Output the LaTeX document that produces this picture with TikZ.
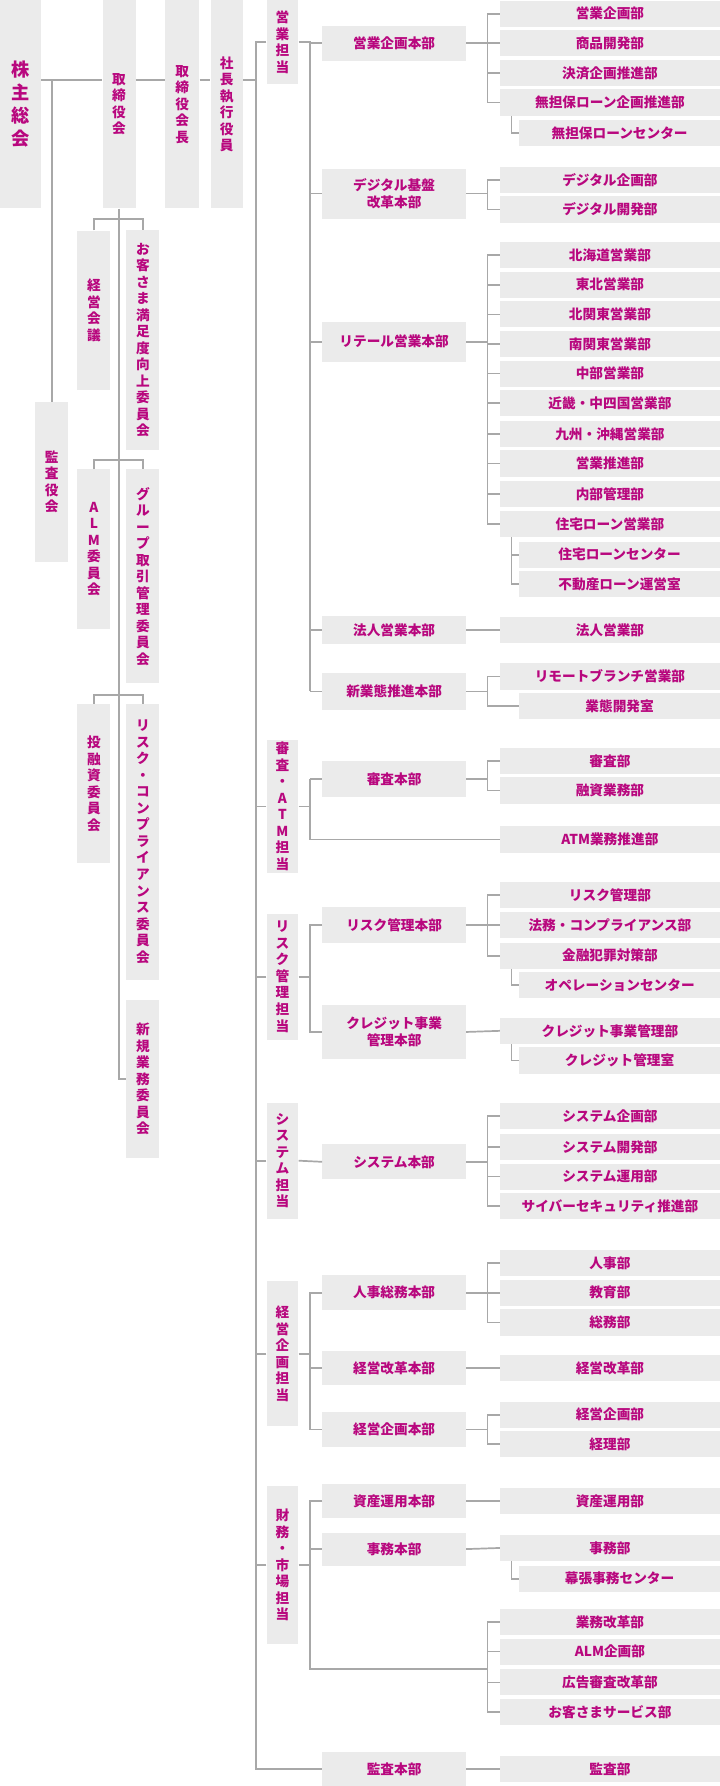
\documentclass[tikz,border=0pt]{standalone}
\usepackage{fontspec}
\setmainfont{Noto Sans CJK JP}
\definecolor{mag}{HTML}{B8077E}
\definecolor{bg}{HTML}{EBEBEB}
\definecolor{ln}{HTML}{A8A8A8}
\begin{document}
\begin{tikzpicture}[x=1pt,y=-1pt,
 box/.style={fill=bg,text=mag,font=\bfseries\fontsize{12}{14.5}\selectfont,inner sep=0,align=center},
 dept/.style={box,minimum width=193,minimum height=23},
 sub/.style={box,minimum width=176,minimum height=23},
 hq/.style={box,minimum width=126},
 vt/.style={box,minimum width=29},
 ln/.style={draw=ln,line width=1.5pt}]
\useasboundingbox (0,0) rectangle (632,1568);
% left
\node[vt,minimum width=36,minimum height=183,font=\bfseries\fontsize{16}{20}\selectfont] (kabu) at (18,91.5) {株\\主\\総\\会};
\node[vt,minimum height=183] (tori) at (104.5,91.5) {取\\締\\役\\会};
\node[vt,minimum width=30,minimum height=183] (kaicho) at (160,91.5) {取\\締\\役\\会\\長};
\node[vt,minimum width=28,minimum height=183] (shacho) at (199,91.5) {社\\長\\執\\行\\役\\員};
\node[vt,minimum height=140] (kansayaku) at (45.5,423) {監\\査\\役\\会};
\node[vt,minimum height=140] (keiei) at (82.5,272.5) {経\\営\\会\\議};
\node[vt,minimum height=193] (okyaku) at (125.5,298.5) {お\\客\\さ\\ま\\満\\足\\度\\向\\上\\委\\員\\会};
\node[vt,minimum height=140] (alm) at (82.5,482) {A\\L\\M\\委\\員\\会};
\node[vt,minimum height=188] (group) at (125.5,506) {グ\\ル\\ー\\プ\\取\\引\\管\\理\\委\\員\\会};
\node[vt,minimum height=140] (toyu) at (82.5,688) {投\\融\\資\\委\\員\\会};
\node[vt,minimum height=242] (risk) at (125.5,739) {リ\\ス\\ク\\・\\コ\\ン\\プ\\ラ\\イ\\ア\\ン\\ス\\委\\員\\会};
\node[vt,minimum height=139] (shinki) at (125.5,947.5) {新\\規\\業\\務\\委\\員\\会};
\coordinate (j) at (225,70);
\draw[ln] (kabu.east|-j) -- (tori.west|-j) (tori.east|-j) -- (kaicho.west|-j) (kaicho.east|-j) -- (shacho.west|-j) (shacho.east|-j) -- (j);
\draw[ln] (kansayaku.north|-j) -- (kansayaku.north);
\draw[ln] (tori.south) -- (tori.south|-shinki.west) -- (shinki.west);
\draw[ln] (keiei.north) -- (keiei.north|-0,192) -- (okyaku.north|-0,192) -- (okyaku.north);
\draw[ln] (alm.north) -- (alm.north|-0,404) -- (group.north|-0,404) -- (group.north);
\draw[ln] (toyu.north) -- (toyu.north|-0,610) -- (risk.north|-0,610) -- (risk.north);
% tanto
\node[vt,minimum width=28,minimum height=74] (t1) at (248,37) {営\\業\\担\\当};
\node[vt,minimum width=28,minimum height=116] (t2) at (248,708) {審\\査\\・\\A\\T\\M\\担\\当};
\node[vt,minimum width=28,minimum height=111] (t3) at (248,857.5) {リ\\ス\\ク\\管\\理\\担\\当};
\node[vt,minimum width=28,minimum height=102] (t4) at (248,1019) {シ\\ス\\テ\\ム\\担\\当};
\node[vt,minimum width=28,minimum height=127] (t5) at (248,1188.5) {経\\営\\企\\画\\担\\当};
\node[vt,minimum width=28,minimum height=138] (t6) at (248,1374) {財\\務\\・\\市\\場\\担\\当};
\node[hq,minimum height=30] (kh) at (346,1553) {監査本部};
\draw[ln] (t1.west) -- (t1.west-|j) -- (kh.west-|j) -- (kh.west);
\foreach \t in {t2,t3,t4,t5,t6} \draw[ln] (\t.west) -- (\t.west-|j);
% honbu
\node[hq,minimum height=31] (h1) at (346,38) {営業企画本部};
\node[hq,minimum height=44] (h2) at (346,170) {デジタル基盤\\改革本部};
\node[hq,minimum height=35] (h3) at (346,300) {リテール営業本部};
\node[hq,minimum height=25] (h4) at (346,553) {法人営業本部};
\node[hq,minimum height=33] (h5) at (346,607) {新業態推進本部};
\node[hq,minimum height=32] (h6) at (346,684) {審査本部};
\node[hq,minimum height=31] (h7) at (346,812) {リスク管理本部};
\node[hq,minimum height=47] (h8) at (346,906) {クレジット事業\\管理本部};
\node[hq,minimum height=31] (h9) at (346,1020) {システム本部};
\node[hq,minimum height=31] (h10) at (346,1135) {人事総務本部};
\node[hq,minimum height=30] (h11) at (346,1201) {経営改革本部};
\node[hq,minimum height=30] (h12) at (346,1255) {経営企画本部};
\node[hq,minimum height=30] (h13) at (346,1318) {資産運用本部};
\node[hq,minimum height=29] (h14) at (346,1360) {事務本部};
% departments
\foreach \n/\y/\s in {a1/12/営業企画部,a2/38/商品開発部,a3/64/決済企画推進部,a4/90/無担保ローン企画推進部,
 b1/158/デジタル企画部,b2/184/デジタル開発部,
 c1/224/北海道営業部,c2/250/東北営業部,c3/276/北関東営業部,c4/302/南関東営業部,c5/328/中部営業部,c6/354/近畿・中四国営業部,c7/381/九州・沖縄営業部,c8/407/営業推進部,c9/434/内部管理部,c10/460/住宅ローン営業部,
 d1/553/法人営業部,e1/594/リモートブランチ営業部,
 f1/668/審査部,f2/694/融資業務部,f3/737/ATM業務推進部,
 g1/786/リスク管理部,g2/812/法務・コンプライアンス部,g3/839/金融犯罪対策部,g5/905/クレジット事業管理部,
 i1/980/システム企画部,i2/1007/システム開発部,i3/1033/システム運用部,i4/1059/サイバーセキュリティ推進部,
 k1/1109/人事部,k2/1135/教育部,k3/1161/総務部,k4/1201/経営改革部,k5/1242/経営企画部,k6/1268/経理部,
 m1/1318/資産運用部,m2/1359/事務部,m4/1424/業務改革部,m5/1450/ALM企画部,m6/1477/広告審査改革部,m7/1503/お客さまサービス部,
 n1/1553/監査部}
 \node[dept] (\n) at (535.5,\y) {\s};
\foreach \n/\y/\s in {a5/117/無担保ローンセンター,c11/487/住宅ローンセンター,c12/513/不動産ローン運営室,e2/620/業態開発室,g4/865/オペレーションセンター,g6/931/クレジット管理室,m3/1386/幕張事務センター}
 \node[sub] (\n) at (544,\y) {\s};
% tanto to honbu
\coordinate (v) at (272,0);
\draw[ln] (t1.east) -- (t1.east-|v) -- (h5.west-|v);
\foreach \h in {h1,h2,h3,h4,h5} \draw[ln] (\h.west-|v) -- (\h.west);
\draw[ln] (t2.east) -- (t2.east-|v) (h6.west-|v) -- (f3.west-|v) -- (f3.west) (h6.west-|v) -- (h6.west);
\draw[ln] (t3.east) -- (t3.east-|v) (h7.west) -- (h7.west-|v) -- (h8.west-|v) -- (h8.west);
\draw[ln] (t4.east) -- (h9.west);
\draw[ln] (t5.east) -- (t5.east-|v) (h10.west) -- (h10.west-|v) -- (h12.west-|v) -- (h12.west) (h11.west-|v) -- (h11.west);
\coordinate (mj) at (428,1465);
\draw[ln] (t6.east) -- (t6.east-|v) (h13.west) -- (h13.west-|v) -- (mj-|v) -- (mj) (h14.west-|v) -- (h14.west);
% honbu to departments
\coordinate (w) at (428,0);
\coordinate (s) at (449,0);
\newcommand\grp[3]{\draw[ln] (#1.east) -- (#1.east-|w); \draw[ln] (#2.west) -- (#2.west-|w) -- (#3.west-|w) -- (#3.west);}
\grp{h1}{a1}{a4}
\grp{h2}{b1}{b2}
\grp{h3}{c1}{c10}
\grp{h5}{e1}{e2}
\grp{h6}{f1}{f2}
\grp{h7}{g1}{g3}
\grp{h9}{i1}{i4}
\grp{h10}{k1}{k3}
\grp{h12}{k5}{k6}
\draw[ln] (m4.west) -- (m4.west-|w) -- (m7.west-|w) -- (m7.west);
\foreach \n in {a2,a3,c2,c3,c4,c5,c6,c7,c8,c9,g2,i2,i3,k2,m5,m6} \draw[ln] (\n.west-|w) -- (\n.west);
\foreach \a/\b in {h4/d1,h8/g5,h11/k4,h13/m1,h14/m2,kh/n1} \draw[ln] (\a.east) -- (\b.west);
\draw[ln] (a4.south-|s) -- (a5.west-|s) -- (a5.west);
\draw[ln] (c10.south-|s) -- (c12.west-|s) -- (c12.west) (c11.west-|s) -- (c11.west);
\draw[ln] (g3.south-|s) -- (g4.west-|s) -- (g4.west);
\draw[ln] (g5.south-|s) -- (g6.west-|s) -- (g6.west);
\draw[ln] (m2.south-|s) -- (m3.west-|s) -- (m3.west);
\end{tikzpicture}
\end{document}
